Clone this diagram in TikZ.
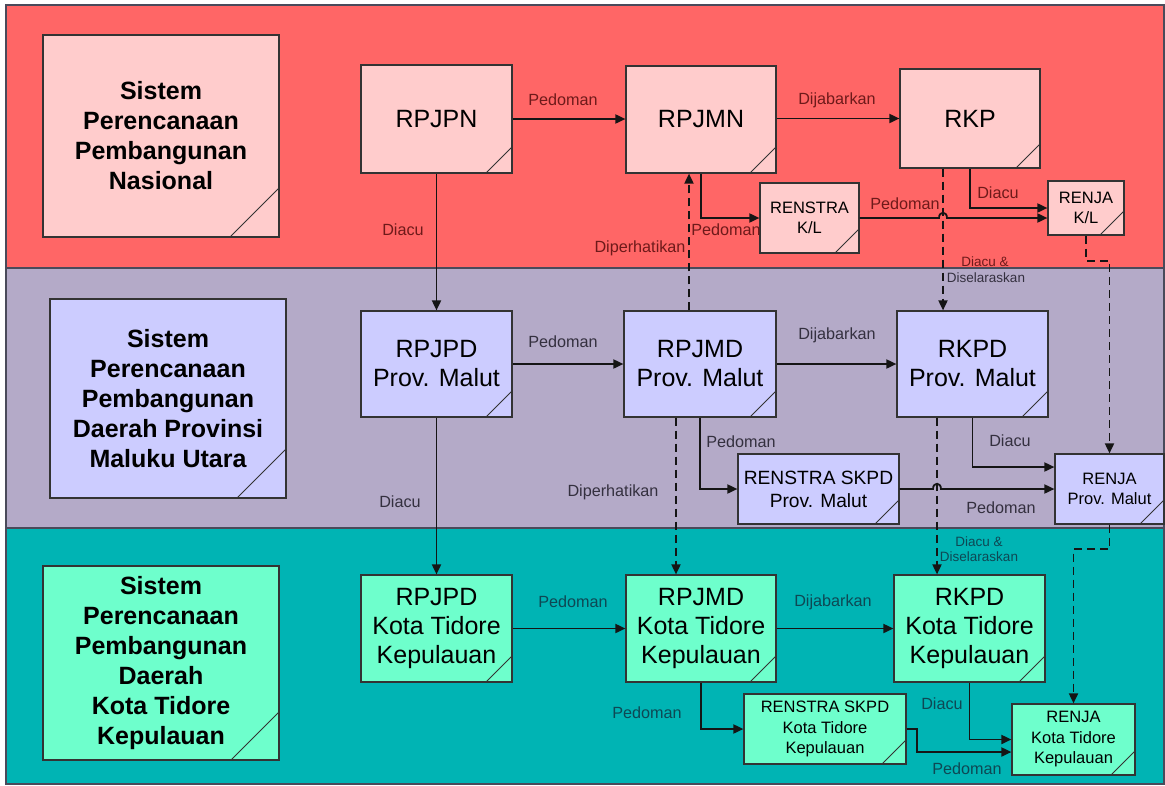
\documentclass[tikz,border=0pt]{standalone}
\usepackage{fontspec}
\setmainfont{Liberation Sans}
\usetikzlibrary{arrows.meta}
\definecolor{bandR}{HTML}{FF6666}
\definecolor{bandP}{HTML}{B4AAC8}
\definecolor{bandT}{HTML}{00B4B4}
\definecolor{boxR}{HTML}{FFCCCC}
\definecolor{boxP}{HTML}{CCCCFF}
\definecolor{boxT}{HTML}{6EFFCC}
\definecolor{lblR}{HTML}{6E1A1A}
\definecolor{lblP}{HTML}{34303F}
\definecolor{lblT}{HTML}{0E4854}
\definecolor{boxline}{HTML}{333333}
\definecolor{bandline}{HTML}{4A4A5A}
\definecolor{conn}{HTML}{151515}
\begin{document}
\begin{tikzpicture}[x=1pt,y=-1pt,
  foldsz/.code={\def\foldsz{#1}},
  foldsz=26pt,
  box/.style={draw=boxline, line width=1.2pt, inner sep=0pt, align=center, text=black,
    path picture={\draw[boxline, line width=1pt]
      ([xshift=-\foldsz]path picture bounding box.south east) --
      ([yshift=\foldsz]path picture bounding box.south east);}},
  bigtxt/.style={font=\fontsize{25}{29}\selectfont},
  midtxt/.style={font=\fontsize{19.2}{23}\selectfont},
  smalltxt/.style={font=\fontsize{16.5}{20.5}\selectfont},
  systxt/.style={font=\fontsize{25}{30}\selectfont\bfseries},
  lbl/.style={inner sep=0pt, font=\fontsize{16.2}{19}\selectfont},
  slbl/.style={inner sep=0pt, font=\fontsize{13.5}{16}\selectfont},
  band/.style={draw=bandline, line width=1.2pt},
  arr/.style={draw=conn, line width=1.8pt, -{Triangle[length=10pt,width=9pt]}},
  darr/.style={arr, dash pattern=on 8pt off 5pt}
]
\useasboundingbox (0,0) rectangle (1165,785);
\fill[white] (0,0) rectangle (1165,785);
% bands
\draw[band, fill=bandR] (6,5) rectangle (1164,268);
\draw[band, fill=bandP] (6,268) rectangle (1164,528);
\draw[band, fill=bandT] (6,528) rectangle (1164,784);

% left system boxes
\node[box, foldsz=49pt, fill=boxR, systxt, minimum width=236pt, minimum height=202pt] (sys1) at (161,136)
  {Sistem\\Perencanaan\\Pembangunan\\Nasional};
\node[box, foldsz=49pt, fill=boxP, systxt, minimum width=236pt, minimum height=199pt] (sys2) at (168,398.5)
  {Sistem\\Perencanaan\\Pembangunan\\Daerah Provinsi\\Maluku Utara};
\node[box, foldsz=48pt, fill=boxT, systxt, minimum width=236pt, minimum height=194pt] (sys3) at (161,663)
  {Sistem\\Perencanaan\\Pembangunan\\Daerah\\Kota Tidore\\Kepulauan};

% top row
\node[box, fill=boxR, bigtxt, minimum width=151pt, minimum height=108pt] (rpjpn) at (436.5,119) {RPJPN};
\node[box, fill=boxR, bigtxt, minimum width=150pt, minimum height=107pt] (rpjmn) at (701,119.5) {RPJMN};
\node[box, foldsz=24pt, fill=boxR, bigtxt, minimum width=140pt, minimum height=99pt] (rkp) at (970,118.5) {RKP};
\node[box, foldsz=24pt, fill=boxR, smalltxt, minimum width=99pt, minimum height=70pt] (renstrakl) at (809.5,218) {RENSTRA\\K/L};
\node[box, foldsz=24pt, fill=boxR, smalltxt, minimum width=76pt, minimum height=54pt] (renjakl) at (1086,208) {RENJA\\K/L};

% middle row
\node[box, fill=boxP, bigtxt, minimum width=151pt, minimum height=106pt] (rpjpdp) at (436.5,364) {RPJPD\\Prov. Malut};
\node[box, fill=boxP, bigtxt, minimum width=152pt, minimum height=106pt] (rpjmdp) at (700,364) {RPJMD\\Prov. Malut};
\node[box, fill=boxP, bigtxt, minimum width=151pt, minimum height=106pt] (rkpdp) at (972.5,364) {RKPD\\Prov. Malut};
\node[box, foldsz=24pt, fill=boxP, midtxt, minimum width=161pt, minimum height=70pt] (renstrap) at (818.5,489) {RENSTRA SKPD\\Prov. Malut};
\node[box, foldsz=24pt, fill=boxP, smalltxt, minimum width=109pt, minimum height=70pt] (renjap) at (1109.5,489) {RENJA\\Prov. Malut};

% bottom row
\node[box, fill=boxT, bigtxt, minimum width=151pt, minimum height=107pt] (rpjpdk) at (436.5,628.5) {RPJPD\\Kota Tidore\\Kepulauan};
\node[box, fill=boxT, bigtxt, minimum width=150pt, minimum height=107pt] (rpjmdk) at (701,628.5) {RPJMD\\Kota Tidore\\Kepulauan};
\node[box, fill=boxT, bigtxt, minimum width=151pt, minimum height=107pt] (rkpdk) at (969.5,628.5) {RKPD\\Kota Tidore\\Kepulauan};
\node[box, foldsz=24pt, fill=boxT, smalltxt, minimum width=162pt, minimum height=70pt] (renstrak) at (825,729) {RENSTRA SKPD\\Kota Tidore\\Kepulauan};
\node[box, foldsz=24pt, fill=boxT, smalltxt, minimum width=123pt, minimum height=71pt] (renjak) at (1073.5,739.5) {RENJA\\Kota Tidore\\Kepulauan};

% ---- connectors: top band
\draw[arr] (rpjpn.east) -- (rpjpn.east -| rpjmn.west);
\draw[arr] (rpjmn.east |- rkp.west) -- (rkp.west);
\draw[arr] (rpjpn.south) -- (rpjpn.south |- rpjpdp.north);
\draw[arr] (rpjmn.south) |- (renstrakl.west);
\draw[darr] ([xshift=-11pt]rpjmdp.north) -- ([xshift=-11pt]rpjmdp.north |- rpjmn.south);
\draw[arr] (renstrakl.east) -- (939,218) .. controls (939,211) and (947,211) .. (947,218) -- (renstrakl.east -| renjakl.west);
\draw[arr] (rkp.south) |- (renjakl.west);
\draw[darr] ([xshift=-27pt]rkp.south) -- ([xshift=-27pt]rkp.south |- rkpdp.north);
\draw[darr] (renjakl.south) -- ++(0,25) -| (renjap.north);

% ---- middle band
\draw[arr] (rpjpdp.east) -- (rpjpdp.east -| rpjmdp.west);
\draw[arr] (rpjmdp.east) -- (rpjmdp.east -| rkpdp.west);
\draw[arr] (rpjpdp.south) -- (rpjpdp.south |- rpjpdk.north);
\draw[arr] (rpjmdp.south) |- (renstrap.west);
\draw[darr] ([xshift=-24pt]rpjmdp.south) -- ([xshift=-24pt]rpjmdp.south |- rpjmdk.north);
\draw[arr] (rkpdp.south) |- ([yshift=22pt]renjap.west);
\draw[arr] (renstrap.east) -- (933,489) .. controls (933,482) and (941,482) .. (941,489) -- (renstrap.east -| renjap.west);
\draw[darr] ([xshift=-35.5pt]rkpdp.south) -- ([xshift=-35.5pt]rkpdp.south |- rkpdk.north);
\draw[darr] (renjap.south) -- ++(0,24) -| (renjak.north);

% ---- bottom band
\draw[arr] (rpjpdk.east) -- (rpjpdk.east -| rpjmdk.west);
\draw[arr] (rpjmdk.east) -- (rpjmdk.east -| rkpdk.west);
\draw[arr] (rpjmdk.south) |- (renstrak.west);
\draw[arr] (rkpdk.south) |- (renjak.west);
\draw[arr] (renstrak.east) -- ++(10,0) |- ([yshift=-12.5pt]renjak.west);

% ---- labels
\node[lbl, text=lblR] (t1) at (563,100) {Pedoman};
\node[lbl, text=lblR] (t2) at (837,100) {Dijabarkan};
\node[lbl, text=lblR] (t3) at (403,230) {Diacu};
\node[lbl, text=lblR] (t4) at (726,230) {Pedoman};
\node[lbl, text=lblR] (t5) at (640,248) {Diperhatikan};
\node[lbl, text=lblR] (t6) at (905,204) {Pedoman};
\node[lbl, text=lblR] (t7) at (998,193) {Diacu};
\node[slbl, text=lblR] (t8) at (985,262) {Diacu \&};
\node[slbl, text=lblP] (t9) at (986,278) {Diselaraskan};

\node[lbl, text=lblP] (m1) at (563,342) {Pedoman};
\node[lbl, text=lblP] (m2) at (837,335) {Dijabarkan};
\node[lbl, text=lblP] (m3) at (400,502) {Diacu};
\node[lbl, text=lblP] (m4) at (741,442) {Pedoman};
\node[lbl, text=lblP] (m5) at (613,492) {Diperhatikan};
\node[lbl, text=lblP] (m6) at (1010,441) {Diacu};
\node[lbl, text=lblP] (m7) at (1001,508) {Pedoman};
\node[slbl, text=lblT] (m8) at (979,542) {Diacu \&};
\node[slbl, text=lblT] (m9) at (979,557) {Diselaraskan};

\node[lbl, text=lblT] (b1) at (573,602) {Pedoman};
\node[lbl, text=lblT] (b2) at (833,602) {Dijabarkan};
\node[lbl, text=lblT] (b3) at (647,713) {Pedoman};
\node[lbl, text=lblT] (b4) at (942,704) {Diacu};
\node[lbl, text=lblT] (b5) at (967,769) {Pedoman};
\end{tikzpicture}
\end{document}
